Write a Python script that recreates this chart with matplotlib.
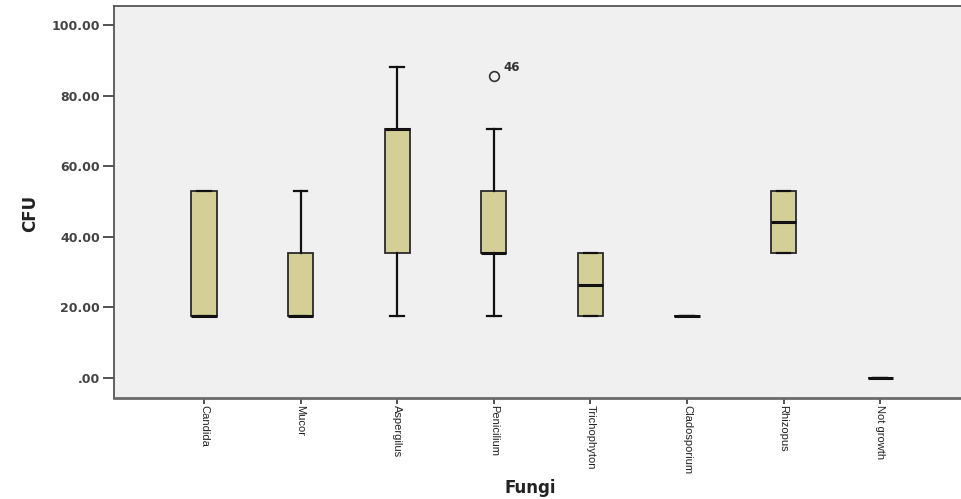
import matplotlib
matplotlib.use("Agg")
import matplotlib.pyplot as plt

# SPSS style boxplot of CFU per fungus
fungi = ["Candida", "Mucor", "Aspergilus", "Penicilium", "Trichophyton",
         "Cladosporium", "Rhizopus", "Not growth"]
whislo = [17.65, 17.65, 17.65, 17.65, 17.65, 17.65, 35.29, 0.0]
q1 = [17.65, 17.65, 35.29, 35.29, 17.65, 17.65, 35.29, 0.0]
med = [17.65, 17.65, 70.59, 35.29, 26.47, 17.65, 44.12, 0.0]
q3 = [52.94, 35.29, 70.59, 52.94, 35.29, 17.65, 52.94, 0.0]
whishi = [52.94, 52.94, 88.24, 70.59, 35.29, 17.65, 52.94, 0.0]
fliers = [[], [], [], [85.5], [], [], [], []]
flier_ids = {3: "46"}

yticks = [0, 20, 40, 60, 80, 100]
ytick_labels = [".00", "20.00", "40.00", "60.00", "80.00", "100.00"]

stats = []
for i in range(len(fungi)):
    stats.append({"whislo": whislo[i], "q1": q1[i], "med": med[i], "q3": q3[i],
                  "whishi": whishi[i], "fliers": fliers[i], "label": fungi[i]})

W, H = 961, 499
fig = plt.figure(figsize=(W / 100, H / 100), dpi=100)
fig.patch.set_facecolor("white")
ax = fig.add_axes([114 / W, 1 - 398 / H, (970 - 114) / W, (398 - 6) / H])
ax.set_facecolor("#f0f0f0")

positions = list(range(1, len(fungi) + 1))
ax.bxp(stats, positions=positions, widths=0.26, patch_artist=True,
       showfliers=True,
       boxprops=dict(facecolor="#d3cf97", edgecolor="#2a2a2a", linewidth=1.3),
       medianprops=dict(color="#111111", linewidth=2.2, solid_capstyle="butt"),
       whiskerprops=dict(color="#111111", linewidth=1.6),
       capprops=dict(color="#111111", linewidth=1.6),
       capwidths=0.14,
       flierprops=dict(marker="o", markerfacecolor="none", markeredgecolor="#333333",
                       markersize=7, markeredgewidth=1.2))

for i, txt in flier_ids.items():
    for v in fliers[i]:
        ax.annotate(txt, (positions[i], v), xytext=(7, 4), textcoords="offset points",
                    fontsize=8.5, fontweight="bold", color="#333333",
                    family="DejaVu Sans")

ax.set_xlim(0.068, 8.93)
ax.set_ylim(-5.67, 105.4)

ax.set_yticks(yticks)
ax.set_yticklabels(ytick_labels, fontsize=9, fontweight="bold", color="#444444",
                   family="DejaVu Sans")
ax.set_xticks(positions)
ax.set_xticklabels(fungi, rotation=270, fontsize=8, color="#222222",
                   family="Liberation Sans", va="top", ha="center")
ax.tick_params(axis="y", length=8, width=1.3, color="#444444", pad=2)
ax.tick_params(axis="x", length=4, width=1.3, color="#444444", pad=1)

for side in ["left", "top", "right"]:
    ax.spines[side].set_color("#555555")
    ax.spines[side].set_linewidth(1.3)
ax.spines["bottom"].set_color("#6a6a6a")
ax.spines["bottom"].set_linewidth(2)

ax.set_ylabel("CFU", fontsize=12, fontweight="bold", color="#222222",
              family="DejaVu Sans", labelpad=14)
ax.yaxis.set_label_coords(-75 / 856, 0.47)
ax.set_xlabel("Fungi", fontsize=12, fontweight="bold", color="#222222",
              family="DejaVu Sans", va="center")
ax.xaxis.set_label_coords((530 - 114) / 856, -(488 - 398) / 392)

fig.savefig("out.png", dpi=100)
